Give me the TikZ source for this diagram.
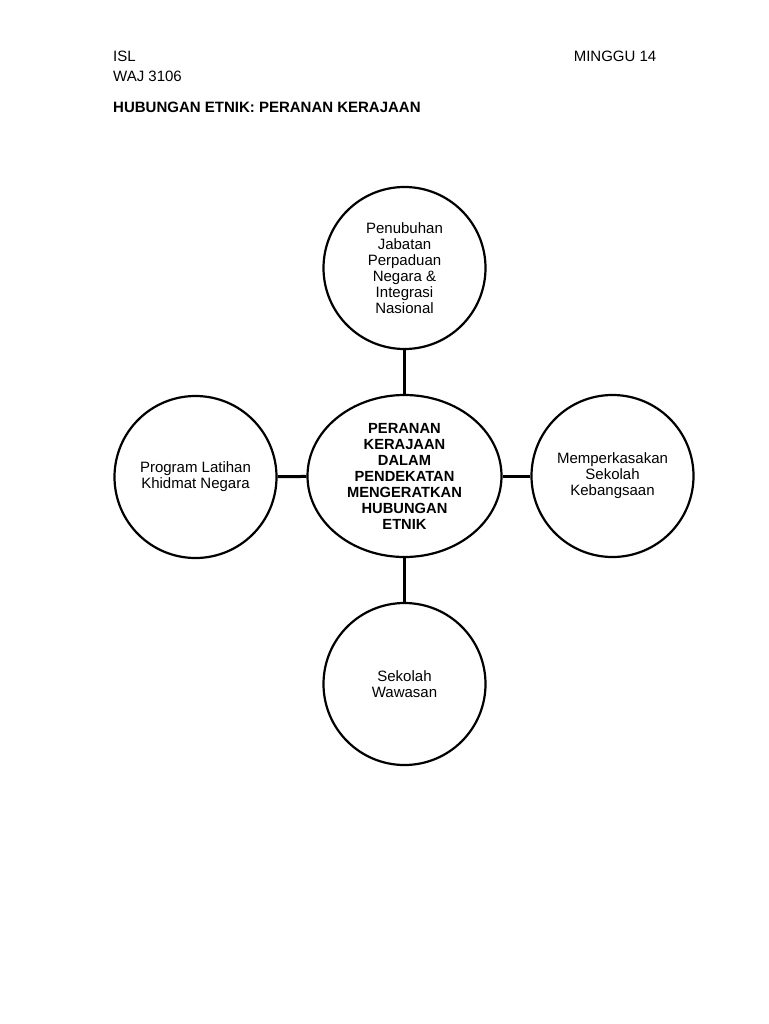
\documentclass[tikz,border=0pt]{standalone}
\usepackage{fontspec}
\setmainfont{Liberation Sans}
\usetikzlibrary{shapes.geometric}
\begin{document}
\begin{tikzpicture}[x=1pt,y=-1pt,
  txt/.style={font=\fontsize{15}{16}\selectfont, inner sep=0pt},
  topic/.style={circle, draw=black, line width=2.2pt, minimum size=162pt, inner sep=0pt, align=center, font=\fontsize{15}{16}\selectfont},
  hub/.style={ellipse, draw=black, line width=2.2pt, minimum width=194pt, minimum height=162pt, inner sep=0pt, align=center, font=\bfseries\fontsize{14.7}{16}\selectfont},
  link/.style={draw=black, line width=3pt}]
\useasboundingbox (0,0) rectangle (768,1024);
\fill[white] (0,0) rectangle (768,1024);
\node[txt, anchor=base west] (isl) at (113,61.5) {ISL};
\node[txt, anchor=base west] (waj) at (113,82) {WAJ 3106};
\node[txt, anchor=base east] (minggu) at (656.5,61.5) {MINGGU 14};
\node[txt, anchor=base west, font=\bfseries\fontsize{15}{16}\selectfont] (title) at (113,112.5) {HUBUNGAN ETNIK: PERANAN KERAJAAN};

\node[hub] (ctr) at (404.5,476) {PERANAN\\KERAJAAN\\DALAM\\PENDEKATAN\\MENGERATKAN\\HUBUNGAN\\ETNIK};
\node[topic] (top) at (404.5,268) {Penubuhan\\Jabatan\\Perpaduan\\Negara \&\\Integrasi\\Nasional};
\node[topic] (left) at (195.5,477) {Program Latihan\\Khidmat Negara};
\node[topic] (right) at (612.5,476) {Memperkasakan\\Sekolah\\Kebangsaan};
\node[topic] (bot) at (404.5,684) {Sekolah\\Wawasan};

\draw[link] (top) -- (ctr);
\draw[link] (left) -- (ctr);
\draw[link] (ctr) -- (right);
\draw[link] (ctr) -- (bot);
\end{tikzpicture}
\end{document}
